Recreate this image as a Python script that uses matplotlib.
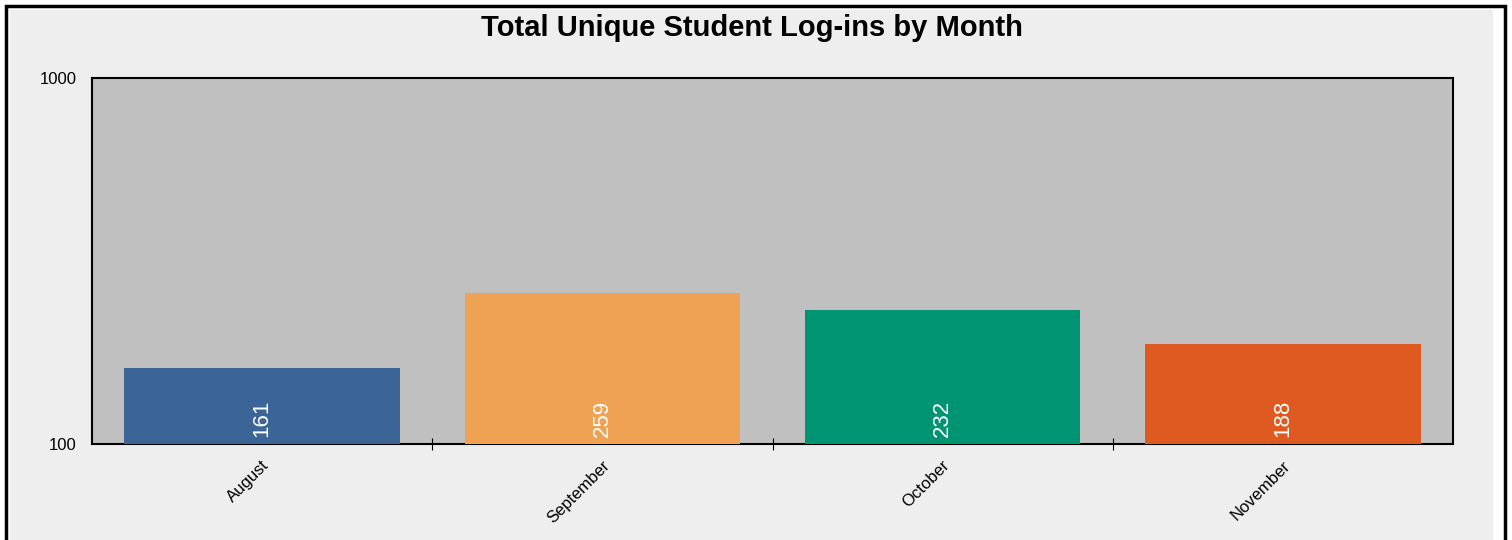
import matplotlib.pyplot as plt
import matplotlib.transforms as mtransforms
from matplotlib.patches import Rectangle
from matplotlib.ticker import FixedLocator, NullLocator

plt.rcParams['font.family'] = ['Liberation Sans', 'DejaVu Sans']

# chart data
months = ['August', 'September', 'October', 'November']
logins = [161, 259, 232, 188]
bar_colors = ['#3a6596', '#efa253', '#019472', '#de5a20']

W, H = 1512, 540
fig = plt.figure(figsize=(W / 100, H / 100), dpi=100, facecolor='white')

# outer frame + grey panel (bottom edge runs off the image)
fig.patches.append(Rectangle((6 / W, -0.05), 1499 / W, (H - 6) / H + 0.05,
                             transform=fig.transFigure, facecolor='white',
                             edgecolor='black', linewidth=2.5, zorder=-2))
fig.patches.append(Rectangle((10 / W, -0.05), 1483 / W, (H - 10) / H + 0.05,
                             transform=fig.transFigure, facecolor='#eeeeee',
                             edgecolor='none', zorder=-1))

ax = fig.add_axes([92 / W, 96 / H, 1361 / W, 366 / H])
ax.set_facecolor('#c0c0c0')

x = list(range(len(months)))
ax.bar(x, logins, width=0.81, bottom=0, color=bar_colors, zorder=3)
ax.set_yscale('log')
ax.set_ylim(100, 1000)
ax.set_xlim(-0.5, len(months) - 0.5)

for i, v in enumerate(logins):
    ax.annotate(str(v), xy=(i, 100), xytext=(0, 5), textcoords='offset points',
                rotation=90, ha='center', va='bottom', color='white',
                fontsize=16, zorder=4)

ax.yaxis.set_major_locator(FixedLocator([100, 1000]))
ax.yaxis.set_minor_locator(NullLocator())
ax.set_yticklabels(['100', '1000'])
ax.tick_params(axis='y', length=0, pad=11, labelsize=12)

# ticks at category boundaries, labels at centres
ax.xaxis.set_major_locator(FixedLocator([0.5, 1.5, 2.5]))
ax.xaxis.set_major_formatter(plt.NullFormatter())
ax.tick_params(axis='x', which='major', direction='inout', length=8, width=0.8)
ax.xaxis.set_minor_locator(FixedLocator(x))
ax.set_xticklabels(months, minor=True, rotation=45, ha='right', fontsize=12)
ax.tick_params(axis='x', which='minor', length=0, pad=10)
shift = mtransforms.ScaledTranslation(10 / 100, 0, fig.dpi_scale_trans)
for lbl in ax.get_xticklabels(minor=True):
    lbl.set_transform(lbl.get_transform() + shift)

for s in ax.spines.values():
    s.set_linewidth(1.5)
    s.set_color('black')

fig.text(751.5 / W, 1 - 28 / H, 'Total Unique Student Log-ins by Month',
         ha='center', va='center', fontsize=21, fontweight='bold')

fig.savefig('out.png', dpi=100, facecolor='white')
